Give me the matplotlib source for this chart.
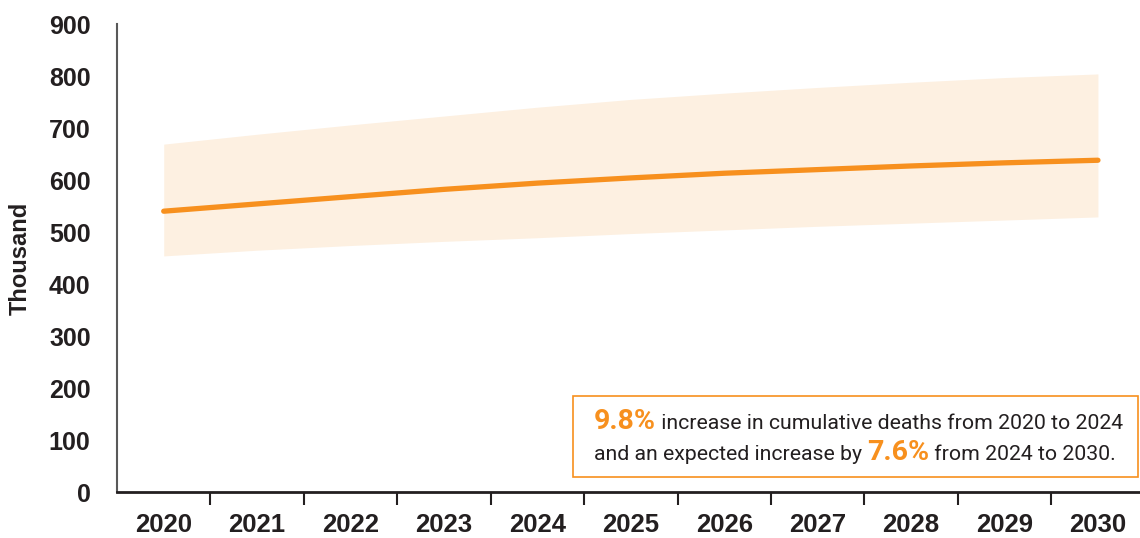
import numpy as np
import matplotlib.pyplot as plt
from matplotlib.patches import Rectangle

# Data (thousand)
years = ['2020', '2021', '2022', '2023', '2024', '2025', '2026', '2027', '2028', '2029', '2030']
central = [540, 554, 568, 582, 594, 604, 613, 620, 627, 633, 638]
upper = [669, 688, 706, 723, 740, 755, 767, 778, 788, 797, 804]
lower = [454, 465, 474, 482, 489, 497, 504, 511, 517, 523, 529]
y_ticks = [0, 100, 200, 300, 400, 500, 600, 700, 800, 900]

orange = '#F7901E'
band = '#FDF0E1'
dark = '#231F20'

fig = plt.figure(figsize=(11.4, 5.38), dpi=100)
ax = fig.add_axes([117 / 1140, 46 / 538, 1023 / 1140, 468 / 538])

x = np.arange(len(years))
ax.fill_between(x, lower, upper, color=band, linewidth=0)
ax.plot(x, central, color=orange, linewidth=3.8, solid_capstyle='round')

ax.set_xlim(-0.5, len(years) - 0.55)
ax.set_ylim(0, 900)

# category axis: labels at centres, tick marks at boundaries
ax.set_xticks(x)
ax.set_xticklabels(years, fontsize=18.5, fontweight='bold', color=dark, family='Liberation Sans')
ax.tick_params(axis='x', which='major', length=0, pad=15)
ax.set_xticks(np.arange(0.5, len(years) - 1, 1), minor=True)
ax.tick_params(axis='x', which='minor', length=9, width=1.5, color=dark, direction='out')

ax.set_yticks(y_ticks)
ax.set_yticklabels([str(v) for v in y_ticks], fontsize=18, fontweight='bold', color=dark, family='Liberation Sans')
ax.tick_params(axis='y', length=0, pad=19)
ax.set_ylabel('Thousand', fontsize=17, fontweight='bold', color=dark, family='Liberation Sans')
ax.yaxis.set_label_coords(-0.083, 0.5)

for s in ['top', 'right']:
    ax.spines[s].set_visible(False)
ax.spines['left'].set_color('#595959')
ax.spines['left'].set_linewidth(1.5)
ax.spines['bottom'].set_color(dark)
ax.spines['bottom'].set_linewidth(2)

# annotation box (figure pixel coords)
W, H = 1140, 538
fig.patches.append(Rectangle((573 / W, (538 - 477) / H), (1138 - 573) / W, (477 - 396) / H,
                             transform=fig.transFigure, fill=False, edgecolor=orange, linewidth=1.2))

fig.canvas.draw()
renderer = fig.canvas.get_renderer()

lines = [
    [('9.8%', True), (' increase in cumulative deaths from 2020 to 2024', False)],
    [('and an expected increase by ', False), ('7.6%', True), (' from 2024 to 2030.', False)],
]
baselines = [429, 460]
for parts, yb in zip(lines, baselines):
    xpos = 594
    for txt, hl in parts:
        if hl:
            t = fig.text(xpos / W, (H - yb) / H, txt, fontsize=20.5, fontweight='bold',
                         color=orange, family='Roboto', va='baseline', ha='left')
        else:
            t = fig.text(xpos / W, (H - yb) / H, txt,
                         fontsize=15.3, color=dark, family='Roboto', va='baseline', ha='left')
        xpos += t.get_window_extent(renderer).width

fig.savefig('out.png', dpi=100)
